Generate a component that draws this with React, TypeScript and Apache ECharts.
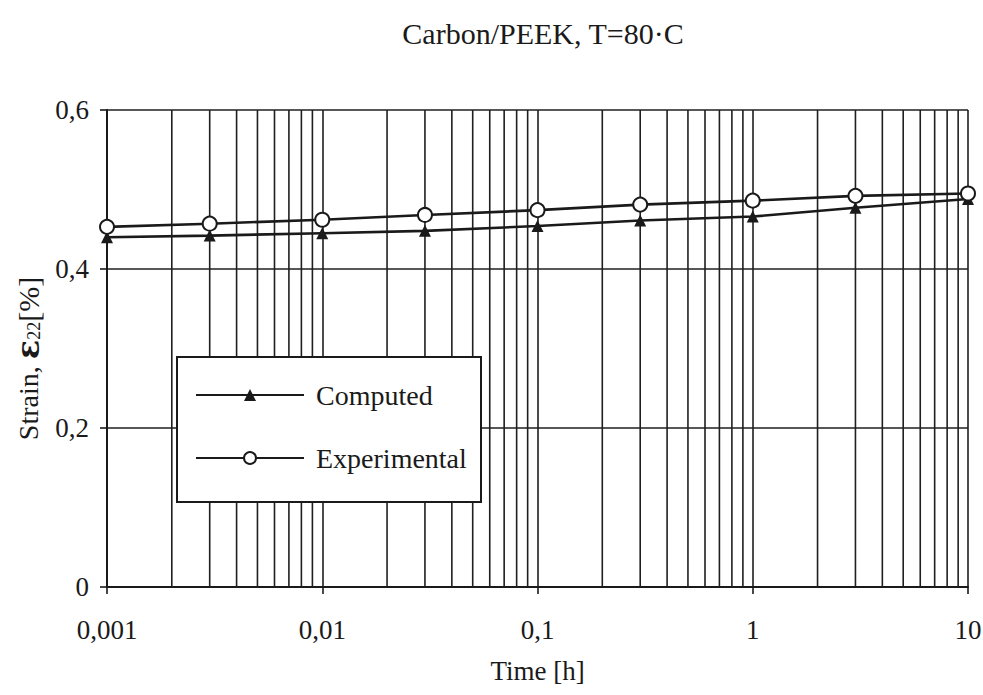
import React, { useEffect, useRef } from "react";
import * as echarts from "echarts";

// Data
const timeH = [0.001, 0.003, 0.01, 0.03, 0.1, 0.3, 1, 3, 10];
const computed = [0.44, 0.442, 0.445, 0.448, 0.454, 0.461, 0.466, 0.477, 0.488];
const experimental = [0.453, 0.457, 0.462, 0.468, 0.474, 0.481, 0.486, 0.492, 0.495];

// Axis / grid definitions
const decades = [0.001, 0.01, 0.1, 1];
const minorMultipliers = [2, 3, 4, 5, 6, 7, 8, 9];
const yMin = 0;
const yMax = 0.6;
const titleText = "Carbon/PEEK, T=80\u00B7C";
const xName = "Time [h]";
const seriesNames = ["Computed", "Experimental"];

const FONT = "'Liberation Serif', 'DejaVu Serif', serif";
const INK = "#1a1a1a";
const GRID_INK = "#1f1f1f";

function fmt(v: number): string {
  const n = Number(v.toPrecision(6));
  return String(n).replace(".", ",");
}

export default function App() {
  const ref = useRef<HTMLDivElement>(null);

  useEffect(() => {
    if (!ref.current) return;
    const chart = echarts.init(ref.current, undefined, { renderer: "svg" });

    const minorGrid: number[] = [];
    decades.forEach((d) => minorMultipliers.forEach((m) => minorGrid.push(Number((d * m).toPrecision(6)))));

    const option: any = {
      animation: false,
      backgroundColor: "#ffffff",
      grid: {
        left: 107,
        right: 15,
        top: 110,
        bottom: 108,
        containLabel: false,
        outerBoundsMode: "none",
      },
      graphic: [
        {
          type: "text",
          x: 543,
          y: 33,
          z: 20,
          style: {
            text: titleText,
            font: `30px ${FONT}`,
            fill: INK,
            textAlign: "center",
            textVerticalAlign: "middle",
            align: "center",
            verticalAlign: "middle",
          },
        },
        {
          type: "rect",
          x: 177,
          y: 357,
          z: 5,
          shape: { x: 0, y: 0, width: 304, height: 145 },
          style: { fill: "#ffffff", stroke: INK, lineWidth: 2 },
        },
      ],
      legend: {
        data: seriesNames,
        orient: "vertical",
        left: 195,
        top: 380,
        padding: 0,
        itemWidth: 108,
        itemHeight: 15,
        itemGap: 33,
        z: 10,
        textStyle: {
          fontFamily: FONT,
          fontSize: 28,
          lineHeight: 30,
          color: INK,
          padding: [0, 0, 0, 7],
        },
      },
      xAxis: {
        type: "log",
        logBase: 10,
        min: 0.001,
        max: 10,
        name: xName,
        nameLocation: "middle",
        nameGap: 70,
        nameTextStyle: { fontFamily: FONT, fontSize: 27, color: INK },
        axisLine: { show: true, lineStyle: { color: INK, width: 2 } },
        axisTick: { show: true, inside: false, length: 7, lineStyle: { color: INK, width: 1.6 } },
        axisLabel: {
          fontFamily: FONT,
          fontSize: 27,
          color: INK,
          margin: 29,
          formatter: (v: number) => fmt(v),
        },
        splitLine: { show: true, lineStyle: { color: GRID_INK, width: 1.6 } },
      },
      yAxis: {
        type: "value",
        min: yMin,
        max: yMax,
        interval: 0.2,
        name: "{a|Strain, }{e|\u03B5}{s|22}{b|[%]}",
        nameLocation: "middle",
        nameGap: 58,
        nameTextStyle: {
          fontFamily: FONT,
          color: INK,
          padding: [0, 20, 0, 0],
          rich: {
            a: { fontFamily: FONT, fontSize: 28, color: INK },
            b: { fontFamily: FONT, fontSize: 30, color: INK },
            e: { fontFamily: "'DejaVu Serif', serif", fontSize: 32, fontWeight: "bold", color: INK },
            s: { fontFamily: FONT, fontSize: 18, color: INK, padding: [12, 0, 0, 0] },
          },
        },
        axisLine: { show: true, lineStyle: { color: INK, width: 2 } },
        axisTick: { show: true, inside: false, length: 7, lineStyle: { color: INK, width: 1.6 } },
        axisLabel: {
          fontFamily: FONT,
          fontSize: 27,
          color: INK,
          margin: 18,
          formatter: (v: number) => (v === 0 ? "0" : fmt(v)),
        },
        splitLine: { show: true, lineStyle: { color: GRID_INK, width: 1.6 } },
      },
      series: [
        {
          name: "__grid",
          type: "custom",
          z: 1,
          silent: true,
          data: minorGrid.map((v) => [v]),
          encode: { x: 0 },
          renderItem: (params: any, api: any) => {
            const x = api.value(0);
            const p0 = api.coord([x, yMin]);
            const p1 = api.coord([x, yMax]);
            return {
              type: "line",
              shape: { x1: p0[0], y1: p0[1], x2: p1[0], y2: p1[1] },
              style: { stroke: GRID_INK, lineWidth: 1.6 },
            };
          },
        },
        {
          name: seriesNames[0],
          type: "line",
          z: 3,
          data: timeH.map((t, i) => [t, computed[i]]),
          symbol: "triangle",
          symbolSize: 12,
          itemStyle: { color: INK },
          lineStyle: { color: INK, width: 2.6 },
        },
        {
          name: seriesNames[1],
          type: "line",
          z: 4,
          data: timeH.map((t, i) => [t, experimental[i]]),
          symbol: "circle",
          symbolSize: 14,
          itemStyle: { color: "#ffffff", borderColor: INK, borderWidth: 2 },
          lineStyle: { color: INK, width: 2.6 },
        },
      ],
    };

    chart.setOption(option);
    return () => chart.dispose();
  }, []);

  return (
    <div
      ref={ref}
      style={{ position: "absolute", left: 0, top: 0, width: 983, height: 695, background: "#fff" }}
    />
  );
}
